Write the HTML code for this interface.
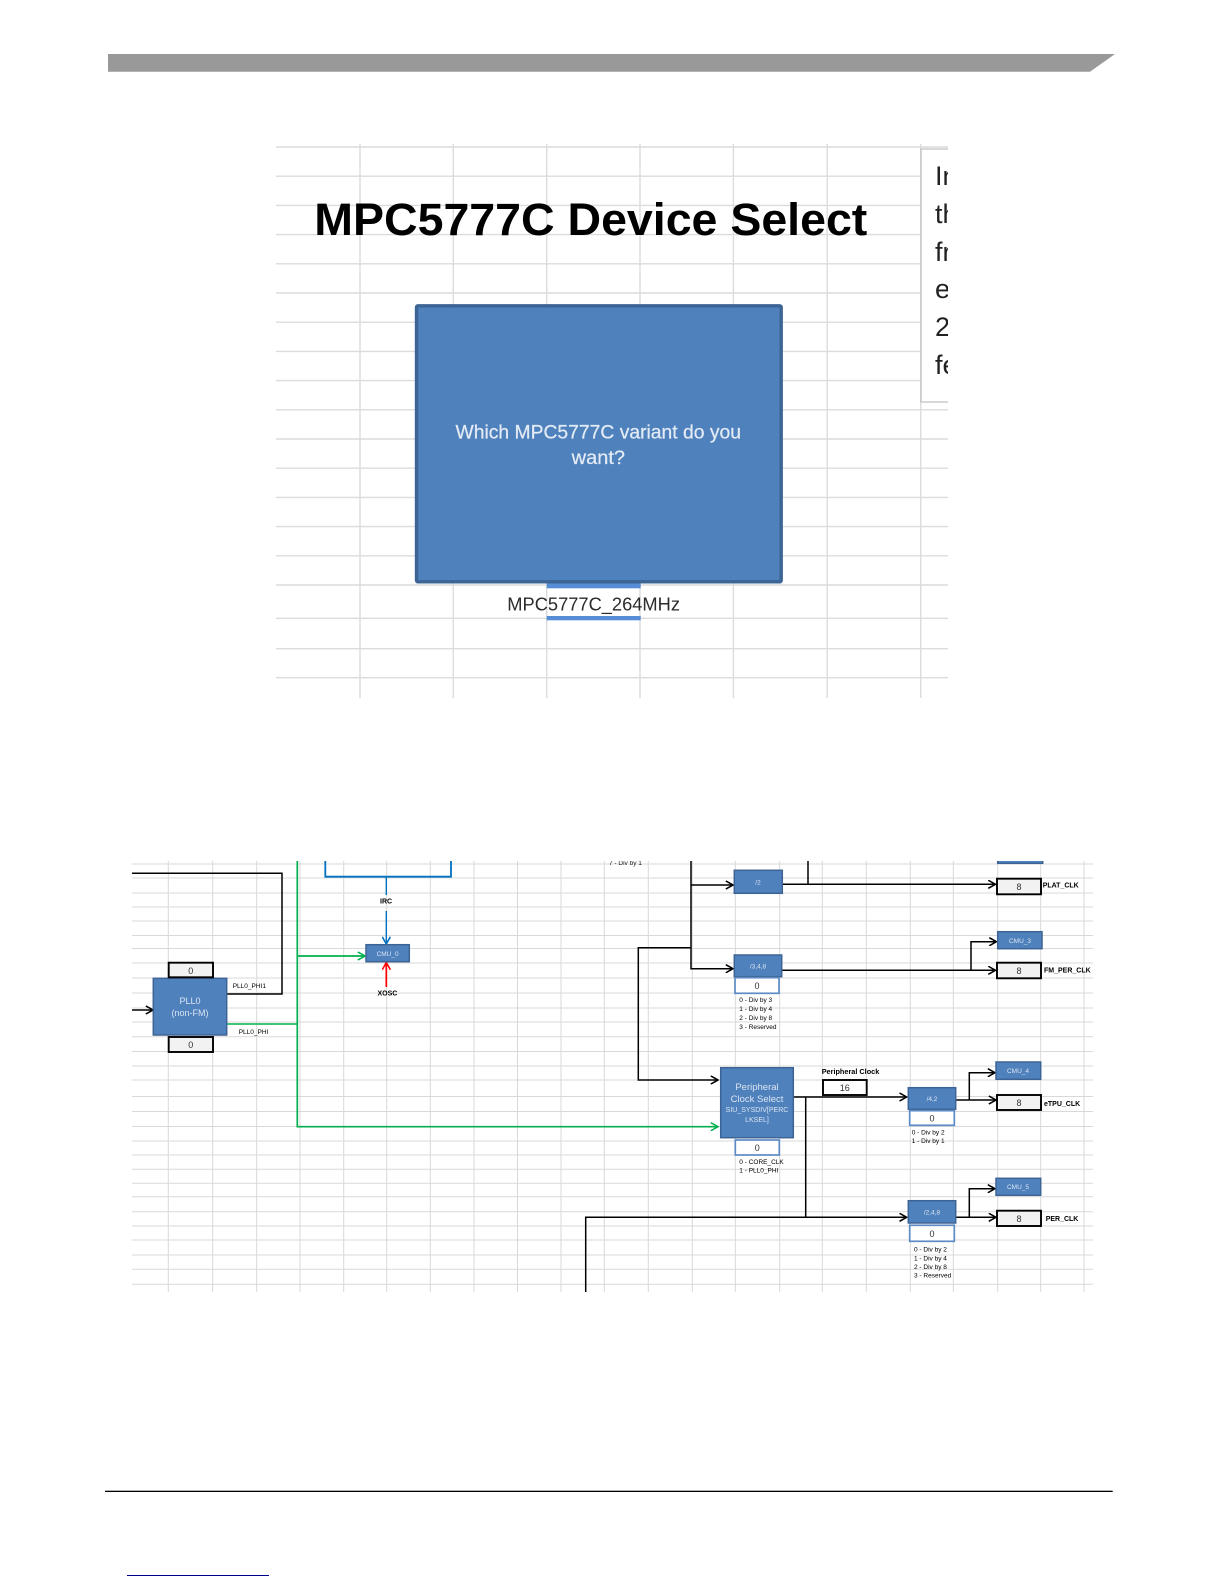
<!DOCTYPE html>
<html>
<head>
<meta charset="utf-8">
<style>
html,body{margin:0;padding:0;background:#fff;width:1224px;height:1584px;overflow:hidden}
svg{display:block;font-family:"Liberation Sans",sans-serif}
</style>
</head>
<body>
<svg width="1224" height="1584" viewBox="0 0 1224 1584" xmlns="http://www.w3.org/2000/svg">
<defs>
<clipPath id="c1"><rect x="276" y="144" width="672" height="554"/></clipPath>
<clipPath id="c2"><rect x="132" y="861" width="961" height="431"/></clipPath>
<filter id="soft" x="-2%" y="-2%" width="104%" height="104%"><feGaussianBlur stdDeviation="0.35"/></filter>
<marker id="ab" viewBox="0 0 10 10" refX="9" refY="5" markerWidth="9" markerHeight="9" markerUnits="userSpaceOnUse" orient="auto"><path d="M1 0.5L9 5L1 9.5" fill="none" stroke="#000" stroke-width="1.7"/></marker>
<marker id="ag" viewBox="0 0 10 10" refX="9" refY="5" markerWidth="9" markerHeight="9" markerUnits="userSpaceOnUse" orient="auto"><path d="M1 0.5L9 5L1 9.5" fill="none" stroke="#00b050" stroke-width="1.7"/></marker>
<marker id="au" viewBox="0 0 10 10" refX="9" refY="5" markerWidth="9" markerHeight="9" markerUnits="userSpaceOnUse" orient="auto"><path d="M1 0.5L9 5L1 9.5" fill="none" stroke="#0070c0" stroke-width="1.7"/></marker>
<marker id="ar" viewBox="0 0 10 10" refX="9" refY="5" markerWidth="9" markerHeight="9" markerUnits="userSpaceOnUse" orient="auto"><path d="M1 0.5L9 5L1 9.5" fill="none" stroke="#f00" stroke-width="1.7"/></marker>
</defs>

<!-- header bar -->
<polygon points="108,54 1115,54 1090,71.7 108,71.7" fill="#999"/>

<!-- top screenshot -->
<g clip-path="url(#c1)">
<path fill="none" stroke="#dcdcdc" stroke-width="1.4" d="M276 147H948M276 176.2H948M276 205.4H948M276 234.6H948M276 263.8H948M276 293H948M276 322.2H948M276 351.4H948M276 380.6H948M276 409.8H948M276 439H948M276 468.2H948M276 497.4H948M276 526.6H948M276 555.8H948M276 585H948M276 618.3H948M276 648.7H948M276 677.7H948M360 144V698M453.3 144V698M546.7 144V698M640 144V698M733.4 144V698M827.2 144V698M920.7 144V698"/>
<rect x="921" y="149" width="40" height="253" fill="#fff" stroke="#bfbfbf" stroke-width="1.2"/>
<g font-size="27" fill="#222">
<text x="935" y="185">In</text>
<text x="935" y="223">th</text>
<text x="935" y="261">fr</text>
<text x="935" y="298">e</text>
<text x="935" y="336">2</text>
<text x="935" y="374">fe</text>
</g>
</g>
<text x="314.3" y="235" font-size="45" font-weight="bold" fill="#000" textLength="553" lengthAdjust="spacingAndGlyphs">MPC5777C Device Select</text>
<rect x="546.7" y="583" width="94" height="5.3" fill="#558ed5"/>
<rect x="546.7" y="616" width="94" height="4.3" fill="#558ed5"/>
<rect x="416.5" y="305.8" width="364.7" height="276" rx="1.5" fill="#4f81bd" stroke="#3c6494" stroke-width="3.4"/>
<text x="455.5" y="438.3" font-size="19.5" fill="#e3ebf5" stroke="#e3ebf5" stroke-width="0.25" textLength="285.5" lengthAdjust="spacingAndGlyphs">Which MPC5777C variant do you</text>
<text x="571.7" y="464" font-size="19.5" fill="#e3ebf5" stroke="#e3ebf5" stroke-width="0.25" textLength="53.3" lengthAdjust="spacingAndGlyphs">want?</text>
<text x="507.3" y="610.5" font-size="18" fill="#2b2b2b" textLength="172.7" lengthAdjust="spacingAndGlyphs">MPC5777C_264MHz</text>

<!-- bottom screenshot -->
<g clip-path="url(#c2)">
<g filter="url(#soft)">
<path fill="none" stroke="#d9d9d9" stroke-width="1" d="M132 864H1093M132 878H1093M132 893H1093M132 907H1093M132 921H1093M132 935.5H1093M132 948.5H1093M132 963H1093M132 978H1093M132 993H1093M132 1008H1093M132 1022H1093M132 1036.7H1093M132 1051.5H1093M132 1066H1093M132 1080H1093M132 1096.5H1093M132 1111.5H1093M132 1126.5H1093M132 1141H1093M132 1155H1093M132 1169.3H1093M132 1183.3H1093M132 1196.7H1093M132 1211.7H1093M132 1226H1093M132 1240H1093M132 1255H1093M132 1269.3H1093M132 1284.3H1093M168.3 861V1292M212.7 861V1292M256.7 861V1292M300 861V1292M343.7 861V1292M386.7 861V1292M430.3 861V1292M474 861V1292M517.5 861V1292M561 861V1292M604.3 861V1292M648.3 861V1292M692.3 861V1292M735.3 861V1292M779.7 861V1292M822.3 861V1292M866.3 861V1292M910.3 861V1292M953.3 861V1292M997.7 861V1292M1040.7 861V1292M1084 861V1292"/>

<text x="609" y="865" font-size="6.5" fill="#222">7 - Div by 1</text>

<!-- blue IRC bracket -->
<path d="M325.3 861V876.7H451V861" fill="none" stroke="#0070c0" stroke-width="1.8"/>
<path d="M386.3 877V895M386.3 911V944" fill="none" stroke="#0070c0" stroke-width="1.4" marker-end="url(#au)"/>
<path d="M386.3 987V962.5" fill="none" stroke="#f00" stroke-width="1.7" marker-end="url(#ar)"/>

<!-- green -->
<path d="M297.3 861V1126.7H718" fill="none" stroke="#00b050" stroke-width="1.7" marker-end="url(#ag)"/>
<path d="M227 1024H297" fill="none" stroke="#00b050" stroke-width="1.5"/>
<path d="M297.3 956H365" fill="none" stroke="#00b050" stroke-width="1.7" marker-end="url(#ag)"/>

<!-- black lines -->
<g fill="none" stroke="#000" stroke-width="1.5">
<path d="M132 873.3H282V994H226"/>
<path d="M132 1010H153" marker-end="url(#ab)"/>
<path d="M691 861V968.7H733" marker-end="url(#ab)"/>
<path d="M691 885H733" marker-end="url(#ab)"/>
<path d="M808 861V884"/>
<path d="M782 884.3H995.5" marker-end="url(#ab)"/>
<path d="M782 970.3H995.5" marker-end="url(#ab)"/>
<path d="M971 970.3V941.7H996.5" marker-end="url(#ab)"/>
<path d="M691 947.7H638.3V1080H718" marker-end="url(#ab)"/>
<path d="M793 1097H906.7" marker-end="url(#ab)"/>
<path d="M805.7 1097V1217.3"/>
<path d="M585.7 1292V1217.3H906.7" marker-end="url(#ab)"/>
<path d="M955.7 1100H996" marker-end="url(#ab)"/>
<path d="M969.3 1100V1072.7H995" marker-end="url(#ab)"/>
<path d="M955.7 1217.3H996" marker-end="url(#ab)"/>
<path d="M969.3 1217.3V1188.7H995" marker-end="url(#ab)"/>
</g>

<!-- blue blocks -->
<g fill="#4f81bd" stroke="#3c6494" stroke-width="1.5">
<rect x="153.3" y="978.3" width="73.4" height="56.7"/>
<rect x="366" y="944.7" width="43.3" height="17"/>
<rect x="734.3" y="870.3" width="48" height="23"/>
<rect x="734.3" y="955" width="47.4" height="21.7"/>
<rect x="997.7" y="855" width="45" height="8.3"/>
<rect x="997.7" y="931.7" width="44.3" height="17"/>
<rect x="720.7" y="1067.7" width="72.6" height="70"/>
<rect x="908.3" y="1087.7" width="47.4" height="21.6"/>
<rect x="908.3" y="1200.7" width="47.4" height="22.3"/>
<rect x="996" y="1062" width="44.7" height="17.3"/>
<rect x="996" y="1178.3" width="44.7" height="17"/>
</g>

<!-- black-outlined value boxes -->
<g fill="#f2f2f2" stroke="#000" stroke-width="1.9">
<rect x="168.7" y="962.7" width="44.3" height="14.6"/>
<rect x="168.7" y="1037" width="44.3" height="15"/>
<rect x="997" y="878.7" width="44" height="15.6"/>
<rect x="997" y="962.7" width="44" height="15.6"/>
<rect x="997" y="1095" width="44" height="15"/>
<rect x="997" y="1210.7" width="44" height="15.3"/>
</g>
<rect x="823" y="1080" width="43.7" height="15" fill="#fff" stroke="#000" stroke-width="1.9"/>

<!-- blue-outlined value boxes -->
<g fill="#fff" stroke="#5b8ac4" stroke-width="1.7">
<rect x="735" y="977.7" width="44" height="15.6"/>
<rect x="735.3" y="1140" width="44" height="15"/>
<rect x="909.7" y="1110.7" width="44.6" height="14.6"/>
<rect x="909.7" y="1225.3" width="44.6" height="16"/>
</g>

<!-- values -->
<g font-size="9" fill="#333" text-anchor="middle">
<text x="190.8" y="974">0</text>
<text x="190.8" y="1048">0</text>
<text x="1019" y="890">8</text>
<text x="1019" y="974">8</text>
<text x="1019" y="1106">8</text>
<text x="1019" y="1222">8</text>
<text x="844.8" y="1091">16</text>
<text x="757" y="989">0</text>
<text x="757.3" y="1151">0</text>
<text x="932" y="1121.5">0</text>
<text x="932" y="1237">0</text>
</g>

<!-- block text -->
<g fill="#dbe5f1" text-anchor="middle">
<text x="190" y="1004" font-size="9">PLL0</text>
<text x="190" y="1016" font-size="9">(non-FM)</text>
<text x="387.6" y="956" font-size="6.5">CMU_0</text>
<text x="758" y="884.5" font-size="6.5">/2</text>
<text x="758" y="968.5" font-size="6.5">/3,4,8</text>
<text x="1020" y="942.8" font-size="6.5">CMU_3</text>
<text x="757" y="1090" font-size="9.5">Peripheral</text>
<text x="757" y="1102" font-size="9.5">Clock Select</text>
<text x="757" y="1112" font-size="7">SIU_SYSDIV[PERC</text>
<text x="757" y="1122" font-size="7">LKSEL]</text>
<text x="932" y="1101" font-size="6.5">/4,2</text>
<text x="932" y="1214.5" font-size="6.5">/2,4,8</text>
<text x="1018" y="1072.8" font-size="6.5">CMU_4</text>
<text x="1018" y="1189" font-size="6.5">CMU_5</text>
</g>

<!-- labels -->
<g font-size="6.5" fill="#000">
<text x="232.7" y="988">PLL0_PHI1</text>
<text x="238.7" y="1034">PLL0_PHI</text>
<text x="739.3" y="1002">0 - Div by 3</text>
<text x="739.3" y="1011">1 - Div by 4</text>
<text x="739.3" y="1020">2 - Div by 8</text>
<text x="739.3" y="1029">3 - Reserved</text>
<text x="739.3" y="1164">0 - CORE_CLK</text>
<text x="739.3" y="1172.6">1 - PLL0_PHI</text>
<text x="911.7" y="1134.3">0 - Div by 2</text>
<text x="911.7" y="1143">1 - Div by 1</text>
<text x="914" y="1251.6">0 - Div by 2</text>
<text x="914" y="1260.3">1 - Div by 4</text>
<text x="914" y="1269">2 - Div by 8</text>
<text x="914" y="1277.6">3 - Reserved</text>
</g>
<g font-size="7" font-weight="bold" fill="#000">
<text x="380" y="903.5">IRC</text>
<text x="377.5" y="995.5">XOSC</text>
<text x="1042.7" y="887.5">PLAT_CLK</text>
<text x="1044" y="972.5">FM_PER_CLK</text>
<text x="1044" y="1106">eTPU_CLK</text>
<text x="1045.7" y="1220.8">PER_CLK</text>
<text x="821.7" y="1074" font-size="7.3">Peripheral Clock</text>
</g>
</g>
</g>

<!-- footer -->
<rect x="105" y="1490.7" width="1007.7" height="1.3" fill="#000"/>
<rect x="127" y="1575" width="142" height="1" fill="#00008b"/>
</svg>
</body>
</html>
